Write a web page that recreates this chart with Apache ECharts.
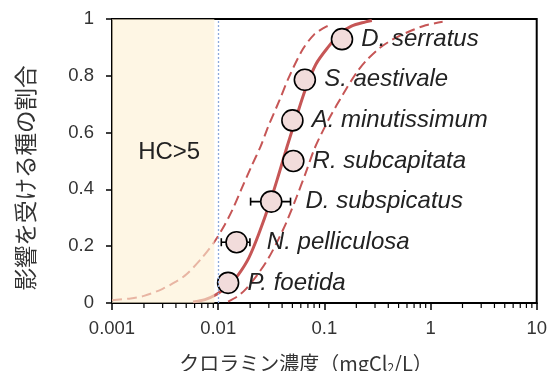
<!DOCTYPE html>
<html>
<head>
<meta charset="utf-8">
<script src="https://cdn.jsdelivr.net/npm/echarts@6.0.0/dist/echarts.min.js"></script>
<style>
html, body { margin: 0; padding: 0; background: #ffffff; }
#chart { width: 550px; height: 371px; }
</style>
</head>
<body>
<div id="chart"></div>
<script>
// Species sensitivity distribution for chloramine (mgCl2/L)
const species = ['P. foetida', 'N. pelliculosa', 'D. subspicatus', 'R. subcapitata',
                 'A. minutissimum', 'S. aestivale', 'D. serratus'];
const conc = [0.0124, 0.0149, 0.0316, 0.051, 0.050, 0.0655, 0.1466];
const fraction = [0.071, 0.214, 0.357, 0.5, 0.643, 0.786, 0.929];
const errLow = [null, 0.0107, 0.0202, null, null, null, null];
const errHigh = [null, 0.0199, 0.048, null, null, null, null];

// fitted distribution curve and its confidence limits: [concentration, fraction]
const fitCurve = [
  [0.0058, 0.004], [0.0075, 0.012], [0.0096, 0.03], [0.0125, 0.06], [0.0155, 0.10],
  [0.0195, 0.16], [0.0245, 0.25], [0.0305, 0.35], [0.037, 0.45], [0.0445, 0.55],
  [0.054, 0.65], [0.066, 0.75], [0.083, 0.84], [0.108, 0.90], [0.142, 0.95],
  [0.18, 0.975], [0.245, 0.99], [0.28, 0.995]
];
const lowerLimit = [
  [0.001, 0.010], [0.0015, 0.016], [0.002, 0.025], [0.003, 0.05], [0.004, 0.075],
  [0.005, 0.10], [0.007, 0.158], [0.0093, 0.218], [0.0115, 0.275], [0.0135, 0.325],
  [0.0165, 0.40], [0.0205, 0.48], [0.025, 0.55], [0.0295, 0.62], [0.038, 0.716],
  [0.047, 0.80], [0.063, 0.895], [0.08, 0.945], [0.1, 0.97], [0.115, 0.98]
];
const upperLimit = [
  [0.0124, 0.005], [0.015, 0.022], [0.018, 0.047], [0.024, 0.105], [0.03, 0.16],
  [0.037, 0.225], [0.044, 0.285], [0.055, 0.375], [0.067, 0.46], [0.08, 0.54],
  [0.095, 0.60], [0.115, 0.66], [0.15, 0.735], [0.2, 0.81], [0.25, 0.855],
  [0.33, 0.897], [0.44, 0.928], [0.63, 0.956], [0.9, 0.978], [1.3, 0.99]
];

const hcThreshold = 0.0092;
const hcLabel = 'HC>5';

const xTicks = [0.001, 0.01, 0.1, 1, 10];
const xTickLabels = ['0.001', '0.01', '0.1', '1', '10'];
const yTickLabels = ['0', '0.2', '0.4', '0.6', '0.8', '1'];
const minorTicks = [
  0.002, 0.003, 0.004, 0.005, 0.006, 0.007, 0.008, 0.009,
  0.02, 0.03, 0.04, 0.05, 0.06, 0.07, 0.08, 0.09,
  0.2, 0.3, 0.4, 0.5, 0.6, 0.7, 0.8, 0.9,
  2, 3, 4, 5, 6, 7, 8, 9
];

const xTitle = ['クロラミン濃度（mgCl', '2', '/L）'];
const yTitle = '影響を受ける種の割合';

// gap between each marker and its name (wider where an error bar sits in between)
const labelGap = [8, 19, 23, 8, 8, 8, 8];

const latin = '"Liberation Sans", Arial, sans-serif';
const cjk = '"Noto Sans CJK JP", sans-serif';
const red = '#c65656';

const errData = [];
species.forEach((s, i) => {
  if (errLow[i] != null) errData.push([errLow[i], errHigh[i], fraction[i]]);
});

const chart = echarts.init(document.getElementById('chart'), null, { renderer: 'canvas' });

chart.setOption({
  animation: false,
  grid: {
    left: 112, right: 13, top: 19, bottom: 68,
    show: true, borderColor: '#000', borderWidth: 2, backgroundColor: 'transparent'
  },
  xAxis: {
    type: 'log', logBase: 10, min: 0.001, max: 10,
    axisLine: { lineStyle: { color: '#000', width: 2 } },
    axisTick: { show: true, length: 7, lineStyle: { color: '#000', width: 1.5 } },
    splitLine: { show: false },
    minorTick: { show: false },
    axisLabel: {
      margin: 16, fontSize: 18.5, fontFamily: latin, color: '#333',
      formatter: v => {
        const i = xTicks.findIndex(t => Math.abs(Math.log10(t) - Math.log10(v)) < 1e-6);
        return i >= 0 ? xTickLabels[i] : '';
      }
    }
  },
  yAxis: {
    type: 'value', min: 0, max: 1, interval: 0.2,
    axisLine: { show: true, lineStyle: { color: '#000', width: 2 } },
    axisTick: { show: true, length: 6, lineStyle: { color: '#000', width: 1.5 } },
    splitLine: { show: false },
    axisLabel: {
      margin: 18, fontSize: 18.5, fontFamily: latin, color: '#333',
      formatter: (v) => yTickLabels[Math.round(v / 0.2)]
    }
  },
  graphic: [
    {
      type: 'text', x: 25, y: 178, rotation: Math.PI / 2,
      style: {
        text: yTitle, font: '22.5px "Noto Sans CJK JP", sans-serif',
        fill: '#333', align: 'center', verticalAlign: 'middle'
      }
    },
    {
      type: 'text', x: 306, y: 360,
      style: {
        text: '{a|' + xTitle[0] + '}{b|' + xTitle[1] + '}{a|' + xTitle[2] + '}',
        align: 'center', verticalAlign: 'middle',
        rich: {
          a: { fontSize: 20, fontFamily: cjk, fill: '#333', color: '#333', lineHeight: 26, verticalAlign: 'bottom' },
          b: { fontSize: 12, fontFamily: cjk, fill: '#333', color: '#333', lineHeight: 14, verticalAlign: 'bottom' }
        }
      }
    }
  ],
  series: [
    {
      name: 'lower limit', type: 'line', data: lowerLimit, smooth: 0.3,
      showSymbol: false, z: 2, silent: true,
      lineStyle: { color: red, width: 2, type: [10, 5] }
    },
    {
      name: 'upper limit', type: 'line', data: upperLimit, smooth: 0.3,
      showSymbol: false, z: 2, silent: true,
      lineStyle: { color: red, width: 2, type: [10, 5] }
    },
    {
      name: 'fit', type: 'line', data: fitCurve, smooth: 0.3,
      showSymbol: false, z: 3, silent: true,
      lineStyle: { color: red, width: 3 }
    },
    {
      name: 'HC5 region', type: 'line', data: [], z: 5, silent: true,
      markArea: {
        silent: true, z: 20,
        itemStyle: { color: 'rgba(253, 240, 212, 0.62)' },
        label: {
          show: true, position: 'inside', offset: [6, -9],
          formatter: hcLabel, fontSize: 24, fontFamily: latin, color: '#222'
        },
        data: [[{ xAxis: 0.001, yAxis: 0 }, { xAxis: hcThreshold, yAxis: 1 }]]
      },
      markLine: {
        silent: true, z: 21, symbol: ['none', 'none'],
        label: { show: false },
        lineStyle: { color: '#8eaadb', width: 1.3, type: [2, 2] },
        data: [{ xAxis: hcThreshold }]
      }
    },
    {
      name: 'minor ticks', type: 'custom', z: 6, silent: true, clip: false,
      data: minorTicks.map(v => [v, 0]),
      encode: { x: 0, y: 1 },
      renderItem: (params, api) => {
        const p = api.coord([api.value(0), 0]);
        return {
          type: 'line',
          shape: { x1: p[0], y1: p[1] + 1, x2: p[0], y2: p[1] + 5 },
          style: { stroke: '#000', lineWidth: 1.2 }
        };
      }
    },
    {
      name: 'error bars', type: 'custom', z: 8, silent: true,
      data: errData,
      encode: { x: [0, 1], y: 2 },
      renderItem: (params, api) => {
        const a = api.coord([api.value(0), api.value(2)]);
        const b = api.coord([api.value(1), api.value(2)]);
        const h = 4;
        const st = { stroke: '#000', lineWidth: 1.6 };
        return {
          type: 'group',
          children: [
            { type: 'line', shape: { x1: a[0], y1: a[1], x2: b[0], y2: b[1] }, style: st },
            { type: 'line', shape: { x1: a[0], y1: a[1] - h, x2: a[0], y2: a[1] + h }, style: st },
            { type: 'line', shape: { x1: b[0], y1: b[1] - h, x2: b[0], y2: b[1] + h }, style: st }
          ]
        };
      }
    },
    {
      name: 'species', type: 'scatter', z: 10,
      data: conc.map((c, i) => ({ value: [c, fraction[i]], label: { distance: labelGap[i] } })),
      symbol: 'circle', symbolSize: 21,
      itemStyle: { color: '#f2dcdb', borderColor: '#000', borderWidth: 1.6, opacity: 1 },
      label: {
        show: true, position: 'right', distance: 8,
        formatter: p => species[p.dataIndex],
        fontSize: 24, fontStyle: 'italic', fontFamily: latin, color: '#222'
      }
    }
  ]
});
</script>
</body>
</html>
